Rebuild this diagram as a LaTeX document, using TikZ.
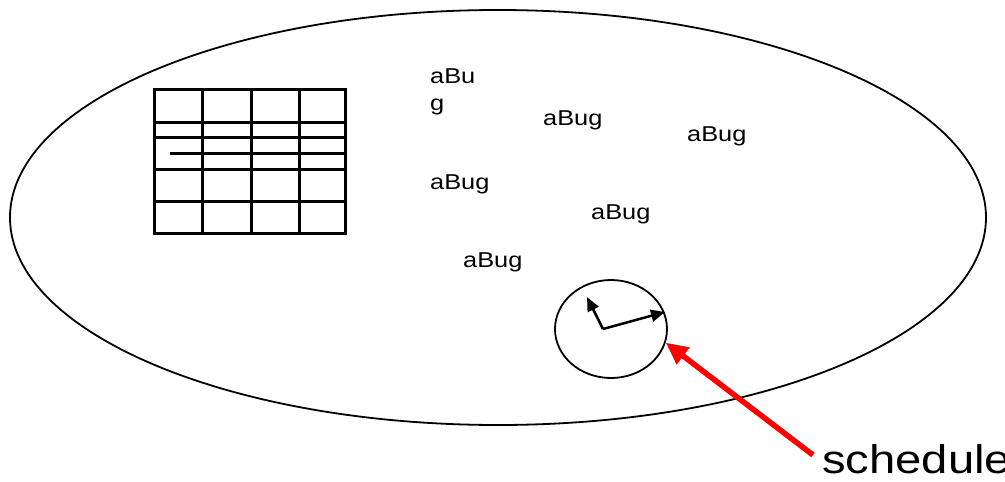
\documentclass[tikz,border=0pt]{standalone}
\usepackage{fontspec}
\setmainfont[FakeStretch=1.18]{Liberation Sans}
\usetikzlibrary{shapes.geometric,arrows.meta}
\begin{document}
\begin{tikzpicture}[x=1pt,y=-1pt,
  bugtext/.style={anchor=base west,inner sep=0pt,font=\fontsize{21.5}{27}\selectfont,align=left},
  gridline/.style={line width=3pt,line cap=rect},
  hand/.style={line width=2.5pt,-{Triangle[length=14pt,width=12pt]}},
  pointer/.style={draw=red,line width=5.5pt,-{Triangle[length=22pt,width=20pt]}}]
\useasboundingbox (0,0) rectangle (1005,482);
% world
\node[ellipse,draw,line width=1.8pt,inner sep=0pt,minimum width=976pt,minimum height=415pt] (world) at (498,217.5) {};
% grid
\draw[gridline] (154,89) rectangle (345,233);
\foreach \xx in {202,251,299} \draw[gridline] (\xx,89) -- (\xx,233);
\foreach \yy in {122,137,169,201} \draw[gridline] (154,\yy) -- (345,\yy);
\draw[gridline] (171,153) -- (345,153);
% bugs
\node[bugtext] (b1) at (430,110) {aBu\\g};
\node[bugtext] (b2) at (543,125) {aBug};
\node[bugtext] (b3) at (687,141) {aBug};
\node[bugtext] (b4) at (430,189) {aBug};
\node[bugtext] (b5) at (591,219) {aBug};
\node[bugtext] (b6) at (463,267) {aBug};
% clock
\node[ellipse,draw,line width=1.8pt,inner sep=0pt,minimum width=112pt,minimum height=98pt] (clock) at (611,329) {};
\coordinate (hub) at (603,329);
\coordinate (h1) at (587,297);
\coordinate (h2) at (665,312);
\draw[hand] (hub) -- (h1);
\draw[hand] (hub) -- (h2);
% schedule
\node[anchor=base west,inner sep=0pt,font=\fontsize{40}{46}\selectfont] (sched) at (822,473) {schedule};
\coordinate (tail) at (813,455);
\draw[pointer] (tail) -- (clock.-14);
\end{tikzpicture}
\end{document}
